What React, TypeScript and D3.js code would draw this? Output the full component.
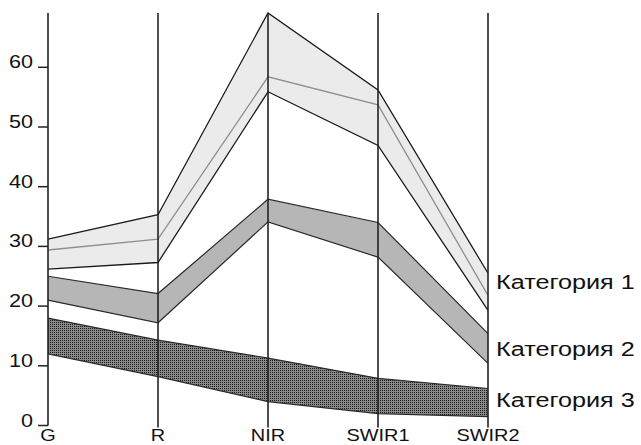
import React from "react";
import * as d3 from "d3";

const bands = ["G", "R", "NIR", "SWIR1", "SWIR2"];
const yTicks = [0, 10, 20, 30, 40, 50, 60];

const cat1Upper = [31.2, 35.3, 69.1, 56.2, 25.5];
const cat1Mid = [29.4, 31.2, 58.4, 53.7, 21.8];
const cat1Lower = [26.2, 27.3, 55.9, 46.9, 19.3];
const cat2Upper = [25.0, 22.1, 37.9, 34.0, 15.4];
const cat2Lower = [21.0, 17.2, 34.1, 28.2, 10.4];
const cat3Upper = [18.0, 14.3, 11.3, 7.9, 6.2];
const cat3Lower = [12.0, 8.2, 4.0, 2.0, 1.5];

const legendNames = ["Категория 1", "Категория 2", "Категория 3"];

const W = 641;
const H = 445;

export default function App() {
  const x = d3.scalePoint<string>().domain(bands).range([48, 488]);
  const y = d3.scaleLinear().domain([0, 60]).range([425.5, 67.3]);

  const lineGen = d3
    .line<[string, number]>()
    .x((d) => x(d[0]) as number)
    .y((d) => y(d[1]));

  const pairs = (vals: number[]) => bands.map((b, i) => [b, vals[i]] as [string, number]);

  const area = (up: number[], lo: number[]) =>
    d3
      .area<number>()
      .x((_, i) => x(bands[i]) as number)
      .y0((_, i) => y(lo[i]))
      .y1((_, i) => y(up[i]))(up.map((_, i) => i)) || "";

  const font = "'Liberation Sans', Arial, sans-serif";
  const top = y(69.1);
  const sx = 1.2;

  const legendY = [
    y((cat1Upper[4] + cat1Lower[4]) / 2) - 10,
    y((cat2Upper[4] + cat2Lower[4]) / 2),
    y((cat3Upper[4] + cat3Lower[4]) / 2) - 3,
  ];

  return (
    <svg
      width={W}
      height={H}
      style={{ position: "absolute", left: 0, top: 0, background: "#fff" }}
    >
      <defs>
        <pattern id="p3" width="2" height="2" patternUnits="userSpaceOnUse">
          <rect width="2" height="2" fill="#8a8a8a" />
          <rect x="0" y="0" width="1" height="1" fill="#1a1a1a" />
        </pattern>
      </defs>

      <path d={area(cat1Upper, cat1Lower)} fill="#ebebeb" />
      <path d={area(cat2Upper, cat2Lower)} fill="#b6b6b6" />
      <path d={area(cat3Upper, cat3Lower)} fill="url(#p3)" />

      {[cat1Upper, cat1Lower].map((v, i) => (
        <path key={"c1" + i} d={lineGen(pairs(v)) || ""} fill="none" stroke="#1a1a1a" strokeWidth={1.3} />
      ))}
      <path d={lineGen(pairs(cat1Mid)) || ""} fill="none" stroke="#8f8f8f" strokeWidth={1.3} />
      {[cat2Upper, cat2Lower].map((v, i) => (
        <path key={"c2" + i} d={lineGen(pairs(v)) || ""} fill="none" stroke="#2a2a2a" strokeWidth={1.2} />
      ))}
      {[cat3Upper, cat3Lower].map((v, i) => (
        <path key={"c3" + i} d={lineGen(pairs(v)) || ""} fill="none" stroke="#2a2a2a" strokeWidth={1.2} />
      ))}

      {bands.map((b, i) => (
        <line
          key={b}
          x1={x(b)}
          x2={x(b)}
          y1={top}
          y2={i === 0 ? y(0) : y(0) + 2}
          stroke="#222"
          strokeWidth={1.6}
        />
      ))}
      {yTicks.map((t) => (
        <g key={t}>
          <line x1={38} x2={48} y1={y(t)} y2={y(t)} stroke="#222" strokeWidth={1.5} />
          <text
            transform={`translate(33,${y(t) + 1}) scale(${sx},1)`}
            textAnchor="end"
            fontFamily={font}
            fontSize={18}
            fill="#111"
          >
            {t}
          </text>
        </g>
      ))}
      {bands.map((b) => (
        <text
          key={"l" + b}
          transform={`translate(${x(b)},441) scale(${sx - 0.03},1)`}
          textAnchor="middle"
          fontFamily={font}
          fontSize={17}
          fill="#111"
        >
          {b}
        </text>
      ))}
      {legendNames.map((n, i) => (
        <text
          key={n}
          transform={`translate(496,${legendY[i]}) scale(${sx},1)`}
          dy="0.35em"
          fontFamily={font}
          fontSize={21}
          fill="#111"
        >
          {n}
        </text>
      ))}
    </svg>
  );
}
